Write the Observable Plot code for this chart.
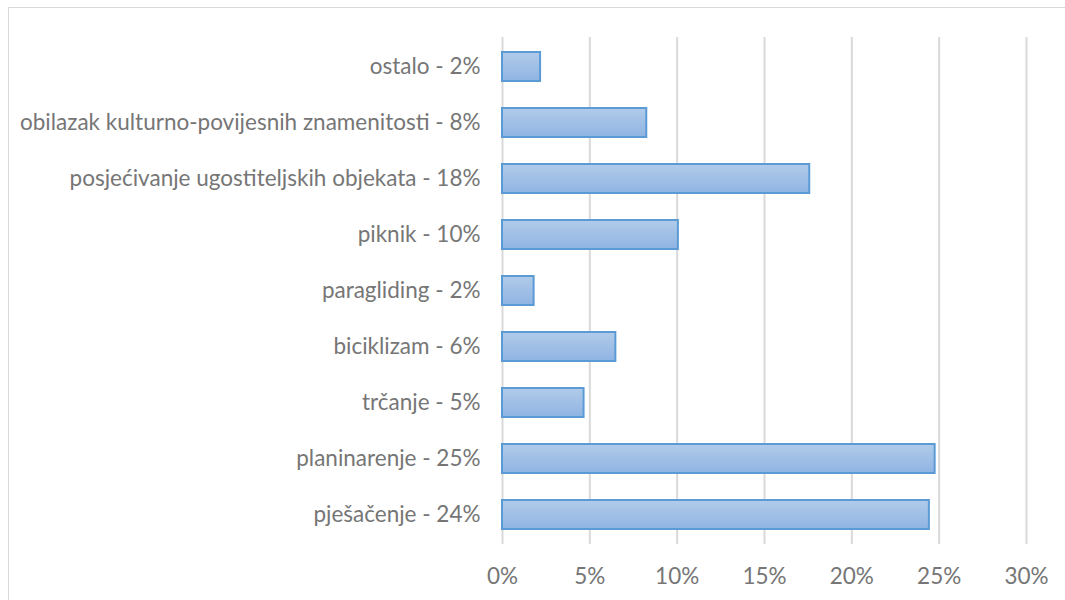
<!DOCTYPE html>
<html>
<head>
<meta charset="utf-8">
<script src="https://cdn.jsdelivr.net/npm/d3@7"></script>
<script src="https://cdn.jsdelivr.net/npm/@observablehq/plot@0.6"></script>
<style>
  html, body { margin: 0; padding: 0; background: #fff; }
  #wrap { position: relative; width: 1065px; height: 600px; overflow: hidden; }
  #frame { position: absolute; left: 8px; top: 7px; width: 1100px; height: 700px;
           border-left: 1px solid #d9d9d9; border-top: 1px solid #d9d9d9; }
  #chart { position: absolute; left: 0; top: 0; }
</style>
</head>
<body>
<div id="wrap"><div id="frame"></div><div id="chart"></div></div>
<script>
const categories = [
  "ostalo - 2%",
  "obilazak kulturno-povijesnih znamenitosti - 8%",
  "posjećivanje ugostiteljskih objekata - 18%",
  "piknik - 10%",
  "paragliding - 2%",
  "biciklizam - 6%",
  "trčanje - 5%",
  "planinarenje - 25%",
  "pješačenje - 24%"
];
const values = [2.18, 8.26, 17.59, 10.07, 1.81, 6.49, 4.67, 24.77, 24.44];
const xTicks = [0, 5, 10, 15, 20, 25, 30];

const data = categories.map((c, i) => ({category: c, value: values[i]}));

const plot = Plot.plot({
  width: 1065,
  height: 600,
  marginLeft: 502,
  marginRight: 39,
  marginTop: 37,
  marginBottom: 56,
  style: {fontFamily: "Lato, 'Open Sans', sans-serif", fontSize: "22.5px", color: "#767676", background: "transparent"},
  x: {domain: [0, 30], ticks: xTicks, tickFormat: d => d + "%", tickSize: 0, tickPadding: 24, label: null, grid: false},
  y: {domain: categories, paddingInner: 0.485, paddingOuter: 0.2425, tickSize: 0, tickPadding: 22, label: null},
  marks: [
    Plot.gridX(xTicks, {stroke: "#d9d9d9", strokeOpacity: 1, strokeWidth: 2}),
    Plot.barX(data, {x: "value", y: "category", fill: "url(#barGrad)", stroke: "#5b9bd5", strokeWidth: 2})
  ]
});

const svg = d3.select(plot);
const defs = svg.insert("defs", ":first-child");
const g = defs.append("linearGradient").attr("id", "barGrad").attr("x1", 0).attr("y1", 0).attr("x2", 0).attr("y2", 1);
g.append("stop").attr("offset", "0%").attr("stop-color", "#b1cbe9");
g.append("stop").attr("offset", "100%").attr("stop-color", "#8fb4e3");
svg.selectAll("[aria-label='x-axis tick label'] text, [aria-label='y-axis tick label'] text").attr("fill", "#767676");

document.getElementById("chart").appendChild(plot);
</script>
</body>
</html>
